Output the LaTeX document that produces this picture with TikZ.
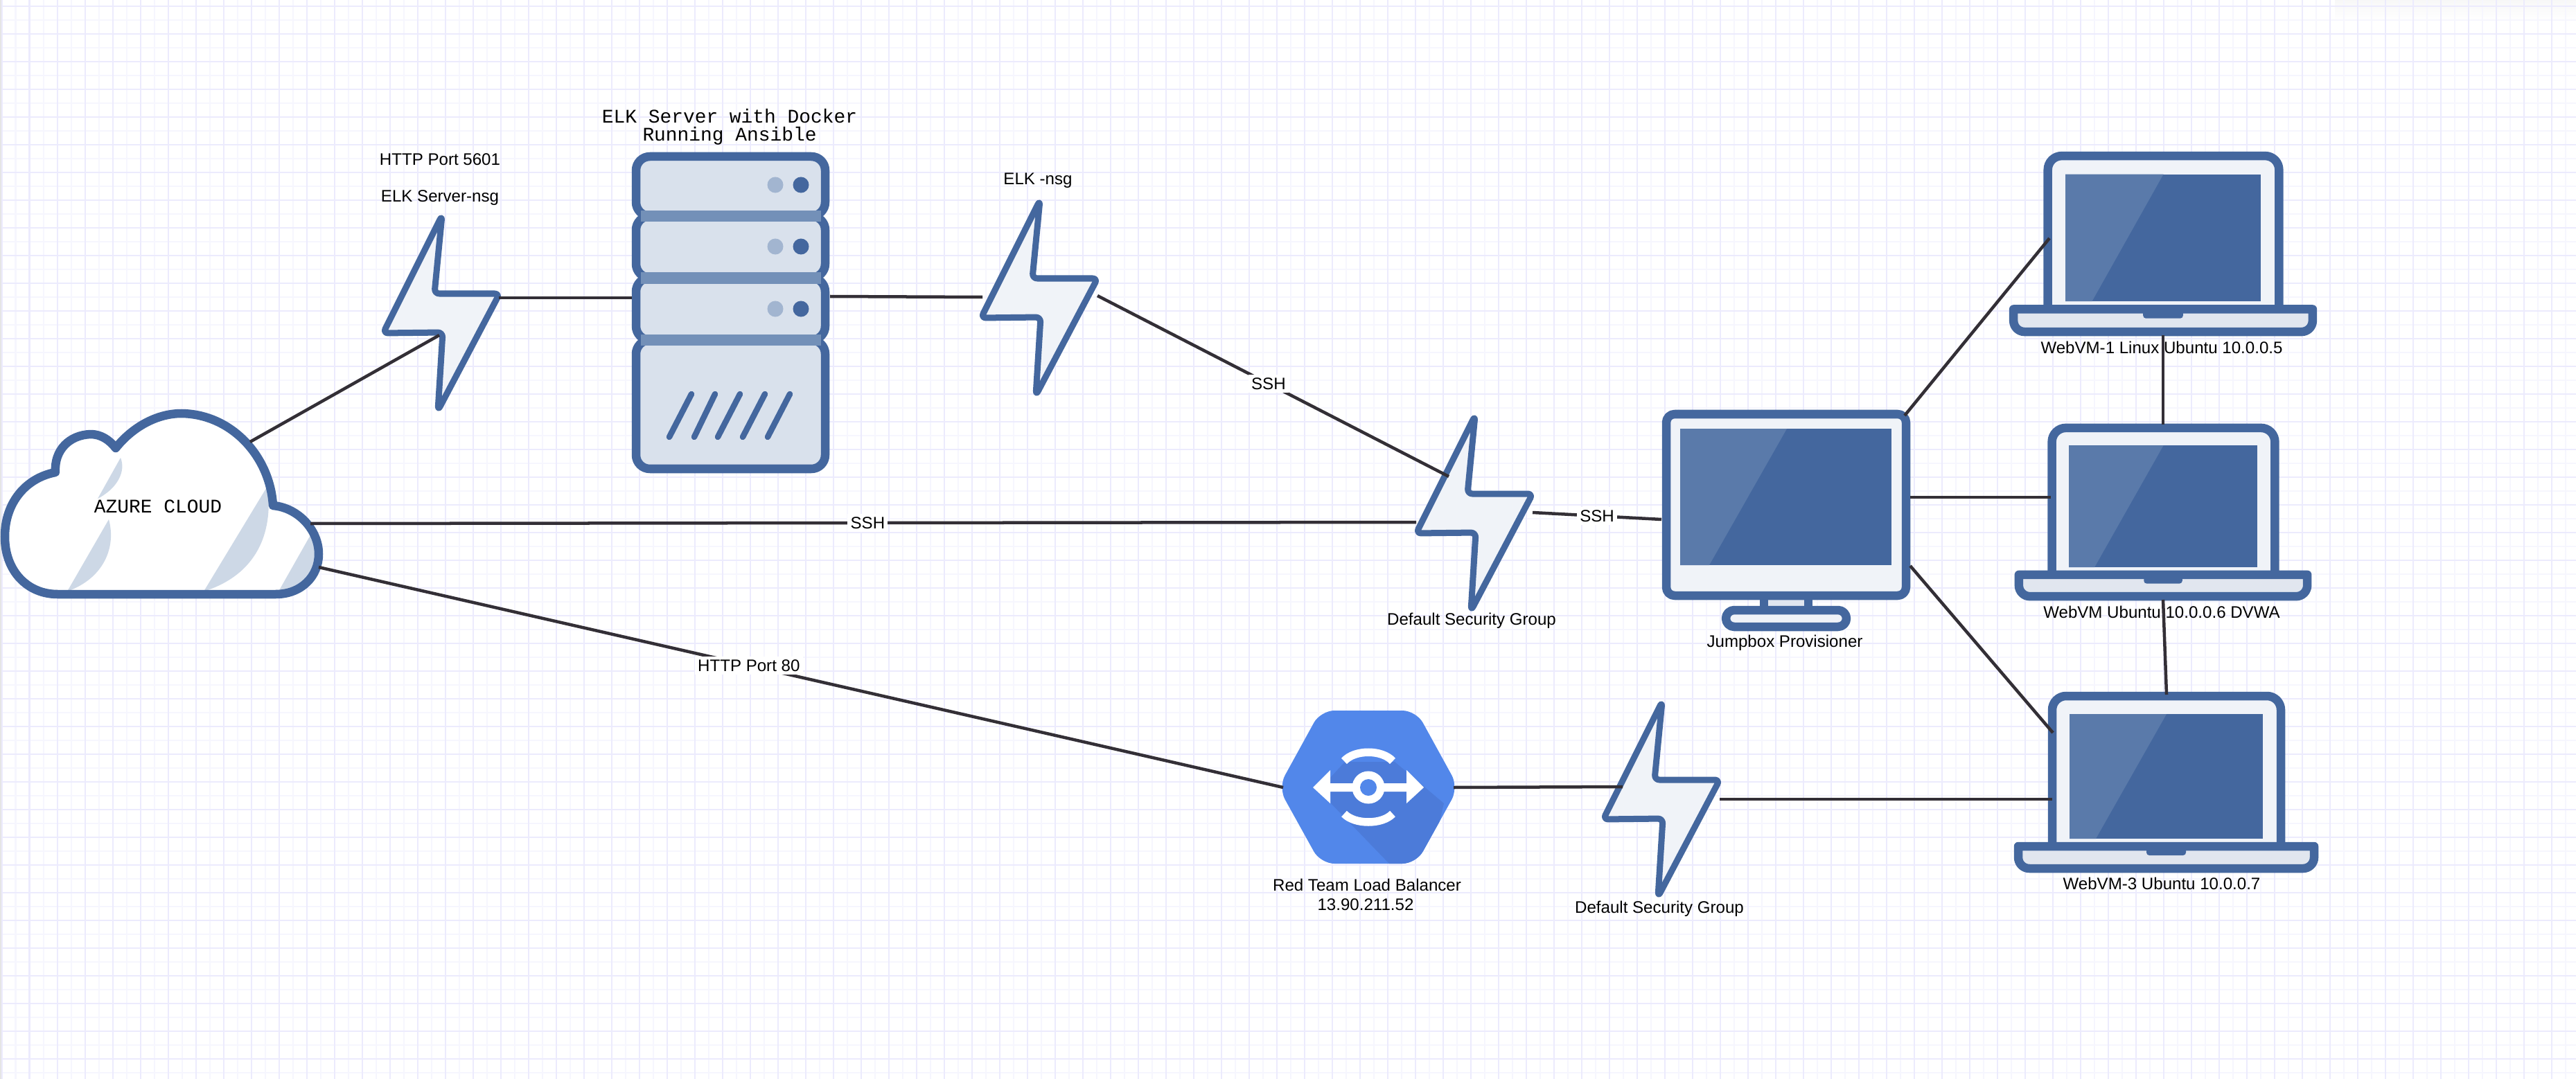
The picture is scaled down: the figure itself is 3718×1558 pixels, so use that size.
\documentclass[tikz,border=0pt]{standalone}
\usepackage{fontspec}
\setmainfont{Liberation Sans}
\newfontfamily\monof{Liberation Mono}
\usetikzlibrary{calc}
\definecolor{outl}{HTML}{44679E}
\definecolor{pale}{HTML}{F0F3F8}
\definecolor{basefill}{HTML}{E1E6EF}
\definecolor{srvfill}{HTML}{D9E1EC}
\definecolor{band}{HTML}{7390B8}
\definecolor{dotl}{HTML}{A2B5D0}
\definecolor{shine}{HTML}{5A7AAA}
\definecolor{crescent}{HTML}{CDD8E6}
\definecolor{lbblue}{HTML}{5287EA}
\definecolor{lbdark}{HTML}{4C7BD9}
\definecolor{wire}{HTML}{332F36}
\definecolor{gridA}{HTML}{ECEBFD}
\definecolor{gridB}{HTML}{F6F6FE}
\tikzset{
  iconbox/.style={inner sep=0pt,outer sep=0pt,draw=none},
  conn/.style={draw=wire,line width=0.045cm},
  edgelabel/.style={fill=white,inner sep=1.2pt,font=\fontsize{6.85}{8}\selectfont},
  caption/.style={inner sep=0pt,align=center,font=\fontsize{6.85}{8.1}\selectfont},
  monotext/.style={inner sep=0pt,align=center,font=\monof\fontsize{7.93}{7.93}\selectfont},
  shapeline/.style={draw=outl,line width=0.125cm,line join=round},
  boltshape/.style={draw=outl,fill=pale,line width=0.09cm,rounded corners=0.07cm,line join=round},
}
\newcommand{\drawbolt}[2]{%
  \begin{scope}[shift={(#1,#2)}]
    \path[boltshape] (1,-141) -- (-10,-28) -- (84,-28) -- (-5,141) -- (2,28) -- (-84,29) -- cycle;
  \end{scope}}
\newcommand{\drawlaptop}[4]{%
  \begin{scope}[shift={(#1,#2)},xscale=#3,yscale=#4]
    \path[shapeline,fill=pale,rounded corners=0.2cm] (-164.5,222) -- (-164.5,5) -- (165.5,5) -- (165.5,222);
    \fill[outl] (-139.5,31) rectangle (139.5,211);
    \fill[shine] (-139.5,31) -- (0.5,31) -- (-101.5,211) -- (-139.5,211) -- cycle;
    \path[shapeline,fill=basefill] (-213.5,222) -- (213.5,222) [rounded corners=0.16cm] -- (213.5,254) -- (-213.5,254) [sharp corners] -- cycle;
    \path[fill=outl,rounded corners=0.04cm] (-28.5,222) -- (-28.5,235) -- (28.5,235) -- (28.5,222) -- cycle;
  \end{scope}}
\begin{document}
\begin{tikzpicture}[x=0.01cm,y=-0.01cm]
\useasboundingbox (0,0) rectangle (3718,1558);
\fill[white] (0,0) rectangle (3718,1558);
\shade[top color=black!3,bottom color=white] (3370,0) rectangle (3718,30);
% grid
\foreach \k in {0,...,92} {\draw[gridB,line width=0.02cm] ({22.5+40*\k},0) -- ({22.5+40*\k},1558);}
\foreach \k in {0,...,38} {\draw[gridB,line width=0.02cm] (0,{29+40*\k}) -- (3718,{29+40*\k});}
\foreach \k in {0,...,92} {\draw[gridA,line width=0.02cm] ({2.5+40*\k},0) -- ({2.5+40*\k},1558);}
\foreach \k in {0,...,38} {\draw[gridA,line width=0.02cm] (0,{9+40*\k}) -- (3718,{9+40*\k});}
\fill[black!10] (0,0) rectangle (2,1558);

% anchor nodes of the icons
\node[iconbox,minimum width=4.66cm,minimum height=2.73cm] (cloud) at (233,728.5) {};
\node[iconbox,minimum width=2.85cm,minimum height=4.63cm] (srv) at (1054.5,451.5) {};
\node[iconbox,minimum width=1.6cm,minimum height=2.76cm] (boltA) at (637,452) {};
\node[iconbox,minimum width=1.66cm,minimum height=2.8cm] (boltB) at (1500,430) {};
\node[iconbox,minimum width=1.68cm,minimum height=2.82cm] (boltC) at (2128,741) {};
\node[iconbox,minimum width=1.68cm,minimum height=2.78cm] (boltD) at (2398,1154) {};
\node[iconbox,minimum width=3.56cm,minimum height=3.17cm] (mon) at (2578,751.5) {};
\node[iconbox,minimum width=4.42cm,minimum height=2.64cm] (lapA) at (3122,352) {};
\node[iconbox,minimum width=4.26cm,minimum height=2.53cm] (lapB) at (3122,739.5) {};
\node[iconbox,minimum width=4.37cm,minimum height=2.59cm] (lapC) at (3126.5,1129.5) {};
\node[iconbox,minimum width=2.46cm,minimum height=2.21cm] (lb) at (1975,1137) {};

% cloud
\path[fill=white] (83,858) .. controls (40,858) and (7,825) .. (7,775) .. controls (7,725) and (38,690) .. (80,682)
  .. controls (78,650) and (100,628) .. (131,627) .. controls (145,627) and (158,635) .. (167,647)
  .. controls (190,618) and (225,597) .. (262,597) .. controls (335,598) and (390,660) .. (394,730)
  .. controls (430,733) and (460,765) .. (460,800) .. controls (460,832) and (435,858) .. (398,858) -- cycle;
\fill[crescent] (174,661) .. controls (182,680) and (170,705) .. (141,720) -- cycle;
\fill[crescent] (157,750) .. controls (168,790) and (150,835) .. (97,854) -- cycle;
\fill[crescent] (386,702) .. controls (395,770) and (370,830) .. (294,854) -- cycle;
\fill[crescent] (449,771) -- (456,800) .. controls (456,830) and (430,852) .. (402,854) -- cycle;
\path[shapeline] (83,858) .. controls (40,858) and (7,825) .. (7,775) .. controls (7,725) and (38,690) .. (80,682)
  .. controls (78,650) and (100,628) .. (131,627) .. controls (145,627) and (158,635) .. (167,647)
  .. controls (190,618) and (225,597) .. (262,597) .. controls (335,598) and (390,660) .. (394,730)
  .. controls (430,733) and (460,765) .. (460,800) .. controls (460,832) and (435,858) .. (398,858) -- cycle;

% server
\path[shapeline,fill=srvfill,rounded corners=0.2cm] (918,226) rectangle (1191,312);
\path[shapeline,fill=srvfill,rounded corners=0.2cm] (918,312) rectangle (1191,401);
\path[shapeline,fill=srvfill,rounded corners=0.2cm] (918,401) rectangle (1191,491);
\path[shapeline,fill=srvfill,rounded corners=0.2cm] (918,491) rectangle (1191,677);
\fill[band] (925,304) rectangle (1185,320);
\fill[band] (925,393) rectangle (1185,410);
\fill[band] (925,483) rectangle (1185,499);
\foreach \y in {267,356,446} {
  \fill[dotl] (1119,\y) ellipse [x radius=0.115cm,y radius=0.115cm];
  \fill[outl] (1156,\y) ellipse [x radius=0.115cm,y radius=0.115cm];
}
\draw[outl,line width=0.085cm,line cap=round] (998,569) -- (966,631) (1032,569) -- (1002,631) (1068,569) -- (1036,631) (1104,569) -- (1072,631) (1140,569) -- (1108,631);

% bolts
\drawbolt{637}{452}
\drawbolt{1500}{430}
\drawbolt{2128}{741}
\drawbolt{2398}{1154}

% monitor
\path[shapeline,fill=basefill] (2546,860) rectangle (2610,882);
\path[shapeline,fill=pale,rounded corners=0.12cm] (2491,881) rectangle (2665,905);
\path[shapeline,fill=pale,rounded corners=0.12cm] (2405,598) rectangle (2751,860);
\fill[outl] (2425,619) rectangle (2730,816);
\fill[shine] (2425,619) -- (2579,619) -- (2467,816) -- (2425,816) -- cycle;

% laptops
\drawlaptop{3122}{220}{1.011}{1.02}
\drawlaptop{3122}{613}{0.975}{0.977}
\drawlaptop{3126.5}{1000}{1}{1}

% load balancer
\begin{scope}
  \path[fill=lbblue,rounded corners=0.2cm] (1845,1137) -- (1906,1026) -- (2044,1026) -- (2105,1137) -- (2044,1247) -- (1906,1247) -- cycle;
  \clip[rounded corners=0.2cm] (1845,1137) -- (1906,1026) -- (2044,1026) -- (2105,1137) -- (2044,1247) -- (1906,1247) -- cycle;
  \fill[lbdark] (1941,1100) -- (2013,1100) -- (2084,1160) -- (2060,1260) -- (2005,1247) -- (1921,1160) -- (1920,1123) -- cycle;
\end{scope}
\fill[white] (1895,1137) -- (1920,1112) -- (1920,1131) -- (2030,1131) -- (2030,1112) -- (2055,1137) -- (2030,1160) -- (2030,1143) -- (1920,1143) -- (1920,1160) -- cycle;
\fill[white] (1975,1137) circle [radius=0.235cm];
\fill[lbblue] (1975,1137) circle [radius=0.12cm];
\draw[white,line width=0.115cm] (1940,1099) .. controls (1955,1082) and (1995,1082) .. (2010,1099);
\draw[white,line width=0.115cm] (1940,1175) .. controls (1955,1191) and (1995,1191) .. (2010,1175);

% connectors
\draw[conn] ($(cloud.center)+(128,-90.5)$) -- ($(boltA.center)+(-3,32)$);
\draw[conn] ($(boltA.center)+(83,-22)$) -- ($(srv.center)+(-142.5,-21.5)$);
\draw[conn] ($(srv.center)+(143.5,-23.5)$) -- ($(boltB.center)+(-82,-1)$);
\draw[conn] ($(boltB.center)+(84,-3)$) -- node[edgelabel,pos=.487] (sshA) {SSH} ($(boltC.center)+(-37,-53)$);
\draw[conn] ($(cloud.center)+(215,27.5)$) -- node[edgelabel,pos=.504] (sshB) {SSH} ($(boltC.center)+(-84,13)$);
\draw[conn] ($(boltC.center)+(84,-1)$) -- node[edgelabel,pos=.5] (sshC) {SSH} ($(mon.center)+(-180,-1.5)$);
\draw[conn] ($(cloud.center)+(227,90.5)$) -- node[edgelabel,pos=.446] (http80) {HTTP Port 80} ($(lb.center)+(-123,0)$);
\draw[conn] ($(lb.center)+(123,0)$) -- ($(boltD.center)+(-56,-18)$);
\draw[conn] ($(boltD.center)+(84,0)$) -- ($(lapC.center)+(-164.5,24.5)$);
\draw[conn] ($(mon.center)+(171,-151.5)$) -- ($(lapA.center)+(-164,-8)$);
\draw[conn] ($(mon.center)+(179,-33.5)$) -- ($(lapB.center)+(-162,-21.5)$);
\draw[conn] ($(mon.center)+(179,65.5)$) -- ($(lapC.center)+(-163.5,-71.5)$);
\draw[conn] ($(lapA.center)+(0,132)$) -- ($(lapB.center)+(0,-126.5)$);
\draw[conn] ($(lapB.center)+(0,126.5)$) -- ($(lapC.center)+(0.5,-126.5)$);

% labels
\node[caption] (t5601) at (635,230) {HTTP Port 5601};
\node[caption] (tnsgA) at (635,286) {ELK Server-nsg};
\node[monotext] (telkA) at (1053,168) {ELK Server with Docker};
\node[monotext] (telkB) at (1053,196) {Running Ansible};
\node[monotext] (tazure) at (228,731) {AZURE CLOUD};
\node[caption] (tnsgB) at (1498,261) {ELK -nsg};
\node[caption] (tdsgA) at (2124,896) {Default Security Group};
\node[caption] (tjump) at (2576,928) {Jumpbox Provisioner};
\node[caption] (tvmA) at (3120,502) {WebVM-1 Linux Ubuntu 10.0.0.5};
\node[caption] (tvmB) at (3120,884) {WebVM Ubuntu 10.0.0.6 DVWA};
\node[caption] (tvmC) at (3120,1276) {WebVM-3 Ubuntu 10.0.0.7};
\node[caption] (tlbA) at (1973,1278) {Red Team Load Balancer};
\node[caption] (tlbB) at (1971,1306) {13.90.211.52};
\node[caption] (tdsgB) at (2395,1312) {Default Security Group};
\end{tikzpicture}
\end{document}
